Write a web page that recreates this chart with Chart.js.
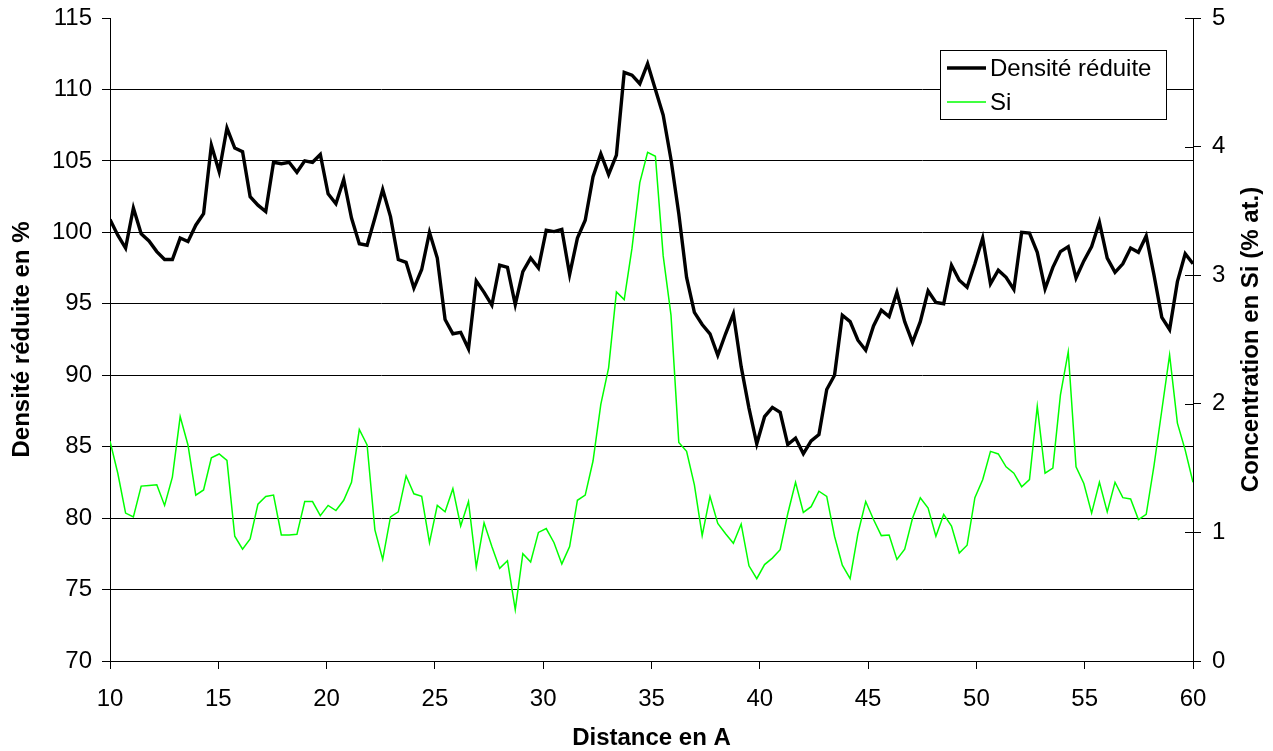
<!DOCTYPE html>
<html>
<head>
<meta charset="utf-8">
<script src="https://cdn.jsdelivr.net/npm/chart.js@4.4.0/dist/chart.umd.min.js"></script>
<style>
html,body{margin:0;padding:0;background:#fff;}
#wrap{width:1273px;height:751px;position:relative;}
</style>
</head>
<body>
<div id="wrap"><canvas id="c" width="1273" height="751"></canvas></div>
<script>
// ---- Data ----
const distance = [
 10.00,10.36,10.72,11.08,11.44,11.80,12.16,12.52,12.88,13.24,
 13.60,13.96,14.32,14.68,15.04,15.40,15.76,16.12,16.47,16.83,
 17.19,17.55,17.91,18.27,18.63,18.99,19.35,19.71,20.07,20.43,
 20.79,21.15,21.51,21.87,22.23,22.59,22.95,23.31,23.67,24.03,
 24.39,24.75,25.11,25.47,25.83,26.19,26.55,26.91,27.27,27.63,
 27.99,28.35,28.71,29.06,29.42,29.78,30.14,30.50,30.86,31.22,
 31.58,31.94,32.30,32.66,33.02,33.38,33.74,34.10,34.46,34.82,
 35.18,35.54,35.90,36.26,36.62,36.98,37.34,37.70,38.06,38.42,
 38.78,39.14,39.50,39.86,40.22,40.58,40.94,41.29,41.65,42.01,
 42.37,42.73,43.09,43.45,43.81,44.17,44.53,44.89,45.25,45.61,
 45.97,46.33,46.69,47.05,47.41,47.77,48.13,48.49,48.85,49.21,
 49.57,49.93,50.29,50.65,51.01,51.37,51.73,52.09,52.45,52.81,
 53.17,53.53,53.88,54.24,54.60,54.96,55.32,55.68,56.04,56.40,
 56.76,57.12,57.48,57.84,58.20,58.56,58.92,59.28,59.64,60.00
];
const densiteReduite = [
 100.9,99.8,98.9,101.7,99.9,99.4,98.65,98.1,98.1,99.6,
 99.35,100.5,101.3,106.1,104.25,107.3,105.9,105.65,102.5,101.9,
 101.45,104.9,104.8,104.9,104.2,105.0,104.9,105.45,102.7,102.0,
 103.7,101.0,99.2,99.1,101.0,103.0,101.1,98.1,97.9,96.1,
 97.4,100.0,98.2,93.9,92.9,93.0,91.85,96.6,95.8,94.9,
 97.7,97.55,94.95,97.25,98.2,97.5,100.15,100.05,100.2,97.05,
 99.6,100.85,103.9,105.5,104.05,105.4,111.2,111.0,110.4,111.8,
 110.0,108.2,105.1,101.3,96.85,94.4,93.55,92.9,91.4,92.9,
 94.3,90.6,87.7,85.2,87.1,87.75,87.4,85.15,85.6,84.5,
 85.4,85.85,89.0,90.0,94.2,93.75,92.45,91.75,93.45,94.55,
 94.1,95.8,93.75,92.3,93.75,95.9,95.1,95.0,97.7,96.65,
 96.15,97.8,99.6,96.4,97.35,96.85,96.0,100.0,99.95,98.6,
 96.05,97.55,98.65,99.0,96.8,98.0,99.0,100.7,98.2,97.2,
 97.8,98.9,98.6,99.75,97.0,94.05,93.2,96.55,98.5,97.8
];
const silicium = [
 1.71,1.46,1.15,1.12,1.36,1.365,1.37,1.21,1.43,1.90,
 1.68,1.29,1.33,1.58,1.61,1.56,0.97,0.87,0.95,1.22,
 1.28,1.29,0.98,0.98,0.985,1.24,1.24,1.13,1.21,1.17,
 1.25,1.39,1.80,1.68,1.02,0.79,1.12,1.16,1.44,1.30,
 1.28,0.92,1.21,1.16,1.34,1.05,1.24,0.73,1.075,0.89,
 0.72,0.78,0.40,0.835,0.77,1.00,1.03,0.92,0.755,0.89,
 1.25,1.29,1.555,1.995,2.28,2.87,2.81,3.21,3.72,3.955,
 3.925,3.15,2.69,1.70,1.63,1.37,0.975,1.28,1.07,0.99,
 0.915,1.065,0.74,0.64,0.75,0.80,0.865,1.145,1.39,1.155,
 1.20,1.32,1.28,0.97,0.745,0.64,0.99,1.24,1.10,0.975,
 0.98,0.79,0.87,1.11,1.27,1.19,0.97,1.14,1.05,0.84,
 0.90,1.27,1.41,1.63,1.61,1.51,1.46,1.355,1.41,1.98,
 1.46,1.50,2.07,2.405,1.51,1.38,1.15,1.39,1.16,1.39,
 1.27,1.26,1.10,1.14,1.52,1.95,2.38,1.85,1.64,1.39
];
const xTickValues = [10,15,20,25,30,35,40,45,50,55,60];
const leftTickValues = [70,75,80,85,90,95,100,105,110,115];
const rightTickValues = [0,1,2,3,4,5];
const seriesNames = ['Densité réduite', 'Si'];
const xTitle = 'Distance en A';
const leftTitle = 'Densité réduite en %';
const rightTitle = 'Concentration en Si (% at.)';

// ---- Build ----
const FONT = "'Liberation Sans', Arial, Helvetica, sans-serif";
Chart.defaults.font.family = FONT;
Chart.defaults.color = '#000';

const ptsDens = distance.map((d, i) => ({x: d, y: densiteReduite[i]}));
const ptsSi = distance.map((d, i) => ({x: d, y: silicium[i]}));
const leftMax = leftTickValues[leftTickValues.length - 1];

const decor = {
  id: 'decor',
  afterDraw(chart) {
    const ctx = chart.ctx;
    const ca = chart.chartArea;
    const y1 = chart.scales.y1;
    ctx.save();
    // inner tick marks on the right axis
    ctx.strokeStyle = '#000';
    ctx.lineWidth = 1;
    y1.ticks.forEach((t) => {
      const py = Math.round(y1.getPixelForValue(t.value)) + 0.5;
      ctx.beginPath();
      ctx.moveTo(ca.right - 8, py);
      ctx.lineTo(ca.right, py);
      ctx.stroke();
    });
    // right axis title (reads bottom to top)
    ctx.save();
    ctx.font = 'bold 24px ' + FONT;
    ctx.fillStyle = '#000';
    ctx.textAlign = 'center';
    ctx.textBaseline = 'middle';
    ctx.translate(1251, (ca.top + ca.bottom) / 2);
    ctx.rotate(-Math.PI / 2);
    ctx.fillText(rightTitle, 0, 0);
    ctx.restore();
    // legend box
    const lx = ca.right - 253, ly = ca.top + 32, lw = 226, lh = 69;
    ctx.fillStyle = '#fff';
    ctx.fillRect(lx, ly, lw, lh);
    ctx.strokeStyle = '#000';
    ctx.lineWidth = 1;
    ctx.strokeRect(lx + 0.5, ly + 0.5, lw, lh);
    const ds = chart.data.datasets;
    const rows = [ly + 18, ly + 52];
    ds.forEach((d, i) => {
      ctx.strokeStyle = d.borderColor;
      ctx.lineWidth = d.borderWidth;
      ctx.beginPath();
      ctx.moveTo(lx + 7, rows[i]);
      ctx.lineTo(lx + 46, rows[i]);
      ctx.stroke();
      ctx.fillStyle = '#000';
      ctx.font = '24px ' + FONT;
      ctx.textAlign = 'left';
      ctx.textBaseline = 'middle';
      ctx.fillText(d.label, lx + 50, rows[i] + 1);
    });
    ctx.restore();
  }
};

new Chart(document.getElementById('c'), {
  type: 'line',
  data: {
    datasets: [
      {label: seriesNames[0], data: ptsDens, yAxisID: 'y', borderColor: '#000000', borderWidth: 3.4,
       pointRadius: 0, tension: 0, fill: false, borderJoinStyle: 'miter'},
      {label: seriesNames[1], data: ptsSi, yAxisID: 'y1', borderColor: '#00ff00', borderWidth: 1.5,
       pointRadius: 0, tension: 0, fill: false}
    ]
  },
  options: {
    responsive: false,
    animation: false,
    devicePixelRatio: 1,
    layout: {padding: {top: 18, right: 0, bottom: 0, left: 0}},
    plugins: {legend: {display: false}, tooltip: {enabled: false}},
    scales: {
      x: {
        type: 'linear', min: xTickValues[0], max: xTickValues[xTickValues.length - 1],
        afterBuildTicks: (s) => { s.ticks = xTickValues.map(v => ({value: v})); },
        ticks: {font: {size: 24}, padding: 16, maxRotation: 0, color: '#000'},
        grid: {drawOnChartArea: false, drawTicks: true, tickLength: 8, color: '#000'},
        border: {display: true, color: '#000', width: 1},
        title: {display: true, text: xTitle, font: {size: 24, weight: 'bold'}, padding: {top: 0, bottom: -2}, color: '#000'},
        afterFit: (s) => { s.height = 90; }
      },
      y: {
        type: 'linear', position: 'left', min: leftTickValues[0], max: leftMax,
        afterBuildTicks: (s) => { s.ticks = leftTickValues.map(v => ({value: v})); },
        ticks: {font: {size: 24}, padding: 10, color: '#000'},
        grid: {drawOnChartArea: true, drawTicks: true, tickLength: 8, lineWidth: 1, tickColor: '#000',
               color: (c) => (c.tick && c.tick.value === leftMax) ? 'rgba(0,0,0,0)' : '#000'},
        border: {display: true, color: '#000', width: 1},
        title: {display: true, text: leftTitle, font: {size: 24, weight: 'bold'}, padding: {top: 8, bottom: 0}, color: '#000'},
        afterFit: (s) => { s.width = 110; s.paddingTop = 0; s.paddingBottom = 0; }
      },
      y1: {
        type: 'linear', position: 'right', min: rightTickValues[0], max: rightTickValues[rightTickValues.length - 1],
        afterBuildTicks: (s) => { s.ticks = rightTickValues.map(v => ({value: v})); },
        ticks: {font: {size: 24}, padding: 11, color: '#000'},
        grid: {drawOnChartArea: false, drawTicks: true, tickLength: 8, color: '#000'},
        border: {display: true, color: '#000', width: 1},
        afterFit: (s) => { s.width = 80; s.paddingTop = 0; s.paddingBottom = 0; }
      }
    }
  },
  plugins: [decor]
});
</script>
</body>
</html>
